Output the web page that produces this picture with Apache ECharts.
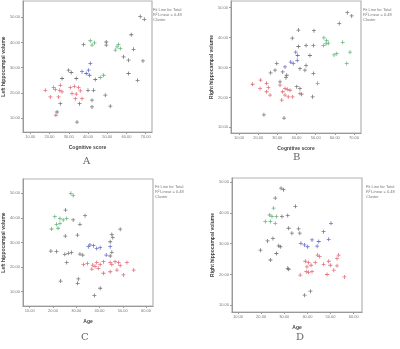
<!DOCTYPE html>
<html><head><meta charset="utf-8">
<script src="https://cdn.jsdelivr.net/npm/echarts@6/dist/echarts.min.js"></script>
<style>html,body{margin:0;padding:0;background:#fff}#c{width:400px;height:349px}</style>
</head><body><div id="c"></div>
<script>
// ---- tick values ----
const xTicksAB = [10,20,30,40,50,60,70];
const xTicksCD = [10,20,30,40,50,60];
const yTicks = [10,20,30,40,50];
// ---- axis titles ----
const xTitleAB = 'Cognitive score';
const xTitleCD = 'Age';
const yTitleAC = 'Left hippocampal volume';
const yTitleBD = 'Right hippocampal volume';
const panelLabels = ['A','B','C','D'];
const legendLines = ['Fit Line for Total','R\u00b2 Linear = 0.48','Cluster'];
// ---- Panel A ----
const redA = [[17.8,21.0],[22.1,22.1],[25.3,21.0],[25.6,23.0],[26.5,20.4],[24.7,18.4],[23.0,21.3],[30.8,22.1],[32.9,22.6],[35.1,22.1],[36.0,20.8],[31.7,19.7],[33.9,19.5],[33.4,17.7],[36.9,17.7],[23.3,11.1],[20.4,18.4]];
const blueA = [[41.2,31.7],[40.3,29.0],[39.1,27.7],[36.9,28.4],[40.8,27.0]];
const greenA = [[41.2,40.7],[43.4,39.9],[42.1,39.0],[55.1,38.3],[55.9,39.2],[54.2,37.0],[56.8,37.6],[48.1,27.0],[46.4,26.1]];
const grayA = [[67.2,50.3],[69.3,49.2],[62.5,43.1],[49.5,40.2],[49.5,39.0],[37.7,39.2],[63.7,37.3],[58.5,34.3],[61.1,33.0],[68.6,32.7],[61.1,27.7],[65.8,25.0],[29.9,29.0],[31.3,28.1],[33.9,25.7],[26.5,25.7],[43.8,25.3],[40.0,21.0],[42.9,21.0],[42.1,17.1],[42.1,14.4],[49.0,19.1],[51.6,14.7],[34.3,8.4],[35.6,15.7],[25.6,15.7],[23.9,12.4]];
// ---- Panel B ----
const redB = [[17.1,24.4],[21.3,25.8],[24.4,24.7],[25.3,23.3],[24.4,21.9],[26.2,20.8],[31.4,24.1],[32.8,21.9],[34.0,23.0],[35.2,22.7],[36.6,22.4],[34.0,20.8],[32.3,19.1],[35.7,20.2],[38.0,20.2],[41.8,21.3],[21.0,23.0]];
const blueB = [[39.6,35.1],[40.6,34.0],[40.4,32.4],[37.0,31.8],[38.3,31.3],[34.0,30.2]];
const greenB = [[54.3,39.9],[55.7,39.0],[55.4,37.9],[54.0,37.3],[56.6,38.1],[64.1,38.4],[61.0,34.6],[59.6,34.2],[67.9,35.1],[66.2,31.3],[51.0,24.7]];
const grayB = [[66.5,48.3],[68.8,47.2],[62.3,44.7],[41.0,42.5],[49.1,42.3],[37.8,39.8],[45.0,37.3],[41.0,37.0],[48.8,37.3],[47.0,34.0],[45.0,30.7],[44.4,29.1],[41.8,29.6],[48.8,28.0],[29.7,31.3],[28.8,29.1],[26.5,28.2],[32.8,28.5],[34.9,27.4],[34.5,26.6],[31.4,25.2],[40.1,23.6],[41.8,23.0],[42.7,21.1],[48.4,20.2],[23.0,14.2],[33.5,13.1]];
// ---- Panel C ----
const redC = [[33.1,21.1],[34.8,21.5],[37.1,20.8],[38.1,20.2],[38.8,21.9],[40.3,21.1],[39.5,19.5],[41.7,22.2],[36.7,19.2],[44.6,21.9],[45.3,21.1],[46.7,22.2],[48.2,21.9],[48.9,20.6],[51.8,21.9],[41.7,17.5],[44.6,18.1],[47.5,18.8],[50.3,16.8],[54.7,18.8]];
const blueC = [[35.9,29.0],[35.2,28.3],[37.4,28.7],[38.8,27.6],[40.3,27.9],[42.9,24.9],[44.6,28.3]];
const greenC = [[27.7,50.0],[28.7,49.1],[20.8,40.5],[23.0,39.8],[24.4,39.2],[25.9,39.8],[21.5,37.4],[23.0,37.8],[22.2,35.8],[19.4,35.5]];
const grayC = [[25.4,43.2],[33.8,40.9],[28.7,39.2],[31.6,37.4],[30.5,33.0],[25.3,32.6],[48.9,35.4],[45.3,33.3],[45.7,32.0],[44.6,30.3],[19.1,26.5],[21.5,26.3],[25.1,25.2],[26.6,25.6],[28.0,25.9],[31.6,25.3],[25.9,21.9],[32.8,24.9],[23.3,14.3],[30.9,15.2],[30.6,13.4],[40.3,11.4],[37.8,8.4],[44.6,24.5],[45.3,26.0]];
// ---- Panel D ----
const redD = [[39.1,24.3],[40.5,23.9],[41.6,23.0],[43.4,23.9],[44.4,26.3],[45.3,25.8],[39.8,22.5],[39.5,20.9],[40.5,20.7],[42.0,20.9],[36.9,19.8],[47.0,23.3],[49.2,24.3],[49.9,23.0],[52.8,25.2],[52.8,22.8],[51.4,21.4],[48.5,20.0],[53.5,26.3],[56.0,19.2]];
const blueD = [[37.2,30.1],[38.7,29.6],[40.1,29.0],[42.0,31.2],[44.2,29.2],[44.9,30.7],[47.0,33.9],[50.2,36.6],[49.2,31.4]];
const greenD = [[25.4,41.5],[23.7,39.3],[24.7,38.8],[26.6,38.8],[21.8,37.2],[24.0,37.2],[26.1,36.6]];
const grayD = [[28.6,48.0],[29.7,47.5],[26.1,44.8],[34.8,42.1],[29.0,38.8],[31.5,39.1],[31.9,35.0],[33.3,33.4],[36.2,34.8],[36.7,33.4],[19.7,27.9],[22.8,30.9],[25.1,31.7],[27.6,29.3],[28.3,29.0],[26.6,26.8],[24.0,24.7],[31.5,22.0],[31.9,21.7],[41.3,14.6],[38.8,13.3]];

const COLORS = {red:'#e0606e', blue:'#5a64c4', green:'#5aae72', gray:'#6a6a6a'};
const PLUS = 'path://M0,1.6h4v0.8h-4z M1.6,0h0.8v4h-0.8z';

const panels = [
  {grid:{left:23,top:1,width:129,height:131}, x:[6.19,73.3], y:[4.45,56.5], xt:xTicksAB, xn:xTitleAB, yn:yTitleAC, groups:[grayA,redA,blueA,greenA], lab:[87,162], leg:[153,8]},
  {grid:{left:231,top:1,width:130,height:132}, x:[5.83,73.65], y:[8.12,52.2], xt:xTicksAB, xn:xTitleAB, yn:yTitleBD, groups:[grayB,redB,blueB,greenB], lab:[297,158], leg:[363,8]},
  {grid:{left:23,top:179,width:130,height:127}, x:[7.12,63.0], y:[4.17,55.83], xt:xTicksCD, xn:xTitleCD, yn:yTitleAC, groups:[grayC,redC,blueC,greenC], lab:[85,338], leg:[155,185]},
  {grid:{left:232,top:178,width:130,height:134}, x:[7.41,63.6], y:[7.83,51.3], xt:xTicksCD, xn:xTitleCD, yn:yTitleBD, groups:[grayD,redD,blueD,greenD], lab:[300,338], leg:[366,185]}
];
const groupColors = [COLORS.gray, COLORS.red, COLORS.blue, COLORS.green];

const option = {animation:false, backgroundColor:'#fff', grid:[], xAxis:[], yAxis:[], series:[], graphic:[]};
panels.forEach((p,i)=>{
  option.grid.push(Object.assign({show:true, borderColor:'#b4b4b4', borderWidth:1.2}, p.grid));
  option.xAxis.push({type:'value', gridIndex:i, min:p.x[0], max:p.x[1],
    name:p.xn, nameLocation:'middle', nameGap:13, nameTextStyle:{fontSize:5, fontWeight:'bold', color:'#444'},
    axisLine:{show:true, lineStyle:{color:'#999'}}, splitLine:{show:false},
    axisTick:{show:true, length:2, lineStyle:{color:'#999'}, customValues:p.xt},
    axisLabel:{fontSize:4, color:'#777', margin:3, customValues:p.xt, formatter:v=>v.toFixed(2)}});
  option.yAxis.push({type:'value', gridIndex:i, min:p.y[0], max:p.y[1],
    name:p.yn, nameLocation:'middle', nameGap:16, nameTextStyle:{fontSize:5, fontWeight:'bold', color:'#444'},
    axisLine:{show:true, lineStyle:{color:'#999'}}, splitLine:{show:false},
    axisTick:{show:true, length:2, lineStyle:{color:'#999'}, customValues:yTicks},
    axisLabel:{fontSize:4, color:'#777', margin:3, customValues:yTicks, formatter:v=>v.toFixed(2)}});
  p.groups.forEach((g,k)=>{
    option.series.push({type:'scatter', xAxisIndex:i, yAxisIndex:i, data:g,
      symbol:PLUS, symbolSize:4,
      itemStyle:{color:groupColors[k], opacity:0.9}});
  });
  option.graphic.push({type:'text', left:p.lab[0]-4, top:p.lab[1]-6,
    style:{text:panelLabels[i], fontSize:10, fontFamily:'DejaVu Serif', fill:'#666'}});
  legendLines.forEach((t,j)=>{
    option.graphic.push({type:'text', left:p.leg[0], top:p.leg[1]+j*5,
      style:{text:t, fontSize:4, fill:'#777'}});
  });
});
const chart = echarts.init(document.getElementById('c'), null, {renderer:'canvas'});
chart.setOption(option);
</script></body></html>
